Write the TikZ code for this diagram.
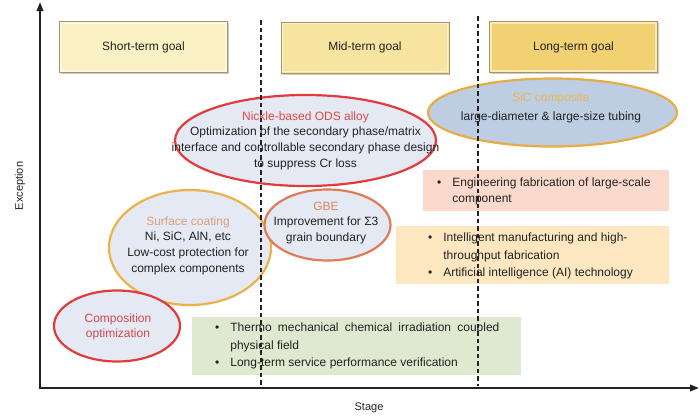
\documentclass[tikz,border=0pt]{standalone}
\usepackage{fontspec}
\setmainfont{Liberation Sans}
\usetikzlibrary{shapes.geometric,arrows.meta,shadows}
\definecolor{shortfill}{HTML}{F9F1C3}
\definecolor{midfill}{HTML}{F7E4A0}
\definecolor{longfill}{HTML}{F1D172}
\definecolor{goalborder}{HTML}{A8955A}
\definecolor{ellfill}{HTML}{E5E9F3}
\definecolor{sicfill}{HTML}{BDCDE2}
\definecolor{redc}{HTML}{E23B3B}
\definecolor{surfc}{HTML}{ECB24A}
\definecolor{sicc}{HTML}{E9AC45}
\definecolor{gbec}{HTML}{DE7C55}
\definecolor{nitext}{HTML}{E04848}
\definecolor{surftext}{HTML}{D9A07A}
\definecolor{gbetext}{HTML}{D98A60}
\definecolor{comptext}{HTML}{D24A4A}
\definecolor{sictext}{HTML}{EDB852}
\definecolor{greenbox}{HTML}{DFE9D0}
\definecolor{peachbox}{HTML}{FBDACB}
\definecolor{orangebox}{HTML}{FDE7C0}
\definecolor{darktext}{HTML}{222222}
\begin{document}
\begin{tikzpicture}[x=1pt,y=-1pt,
  every node/.style={text=darktext},
  goal/.style={rectangle, inner sep=0pt, minimum width=168pt, minimum height=51pt,
    draw=goalborder, line width=1pt,
    drop shadow={shadow xshift=1.2pt, shadow yshift=-1.6pt, fill=black!40},
    font=\fontsize{12}{14}\selectfont},
  bevel/.style={draw=white, draw opacity=0.55, line width=1.6pt},
  ell/.style={ellipse, inner sep=0pt, line width=2.2pt, fill=ellfill},
  etext/.style={align=center, inner sep=0pt, font=\fontsize{12}{15.7}\selectfont},
  infobox/.style={rectangle, inner sep=0pt},
  btext/.style={anchor=west, inner sep=0pt},
  dashline/.style={draw=darktext, line width=1.4pt, dash pattern=on 4.5pt off 3pt},
  axis/.style={draw=darktext, line width=2pt, {Triangle[length=9pt,width=6.5pt]}-{Triangle[length=9pt,width=6.5pt]}},
  axlabel/.style={inner sep=0pt, font=\fontsize{11}{13}\selectfont}
]
\useasboundingbox (0,0) rectangle (700,418);

% goal boxes
\node[goal, fill=shortfill] (short) at (143.5,47) {Short-term goal};
\node[goal, fill=midfill] (mid) at (365,47.5) {Mid-term goal};
\node[goal, fill=longfill] (long) at (573.5,47) {Long-term goal};
\foreach \g in {short,mid,long}
  \draw[bevel] ([shift={(2,2)}]\g.north west) rectangle ([shift={(-2,-2)}]\g.south east);

% ellipses
\node[ell, draw=redc, minimum width=261pt, minimum height=91pt] (ni) at (305.5,140.5) {};
\node[ell, draw=sicc, fill=sicfill, minimum width=249pt, minimum height=68pt] (sic) at (552.5,112.5) {};
\node[ell, draw=surfc, minimum width=162pt, minimum height=115pt] (surf) at (190,247.5) {};
\node[ell, draw=redc, minimum width=126pt, minimum height=71pt] (comp) at (117,326) {};
\node[ell, draw=gbec, minimum width=126pt, minimum height=71pt] (gbe) at (327.5,225) {};

% ellipse texts
\node[etext] (nitxt) at (305.5,140.5) {\textcolor{nitext}{Nickle-based ODS alloy}\\Optimization of the secondary phase/matrix\\interface and controllable secondary phase design\\to suppress Cr loss};
\node[etext, font=\fontsize{12}{19}\selectfont] (sictxt) at (551,107.5) {\textcolor{sictext}{SiC composite}\\large-diameter \& large-size tubing};
\node[etext] (surftxt) at (188,245.5) {\textcolor{surftext}{Surface coating}\\Ni, SiC, AlN, etc\\Low-cost protection for\\complex components};
\node[etext, text=comptext] (comptxt) at (118,327) {Composition\\optimization};
\node[etext, font=\fontsize{12}{15.5}\selectfont] (gbetxt) at (326,223) {\textcolor{gbetext}{GBE}\\Improvement for Σ3\\grain boundary};

% info boxes
\node[infobox, fill=peachbox, minimum width=246pt, minimum height=41pt] (peach) at (546,190.5) {};
\node[infobox, fill=orangebox, minimum width=273pt, minimum height=58pt] (orange) at (532.5,255) {};
\node[infobox, fill=greenbox, minimum width=329pt, minimum height=58pt] (green) at (356.5,346) {};

\node[btext, font=\fontsize{12}{16}\selectfont] (peachtxt) at (437,191) {%
  \begin{tabular}{@{}l@{\hspace{11pt}}l@{}}\textbullet & Engineering fabrication of large-scale\\ & component\end{tabular}};
\node[btext, font=\fontsize{12}{17.5}\selectfont] (orangetxt) at (428,255.5) {%
  \begin{tabular}{@{}l@{\hspace{11pt}}l@{}}\textbullet & Intelligent manufacturing and high-\\ & throughput fabrication\\ \textbullet & Artificial intelligence (AI) technology\end{tabular}};
\node[btext, font=\fontsize{12}{17.5}\selectfont] (greentxt) at (215,345.5) {%
  \begin{tabular}{@{}l@{\hspace{11pt}}l@{}}\textbullet & \makebox[269pt][s]{Thermo mechanical chemical irradiation coupled}\\ & physical field\\ \textbullet & Long-term service performance verification\end{tabular}};

% dashed stage separators
\coordinate (d1t) at (261,20);
\coordinate (d1b) at (261,386);
\coordinate (d2t) at (478,16);
\coordinate (d2b) at (478,386);
\draw[dashline] (d1t) -- (d1b);
\draw[dashline] (d2t) -- (d2b);

% axes
\coordinate (ytop) at (40,2);
\coordinate (origin) at (40,388);
\coordinate (xend) at (699,388);
\draw[axis] (ytop) -- (origin) -- (xend);

\node[axlabel, rotate=90] (ylab) at (20,186) {Exception};
\node[axlabel] (xlab) at (369,408) {Stage};
\end{tikzpicture}
\end{document}
